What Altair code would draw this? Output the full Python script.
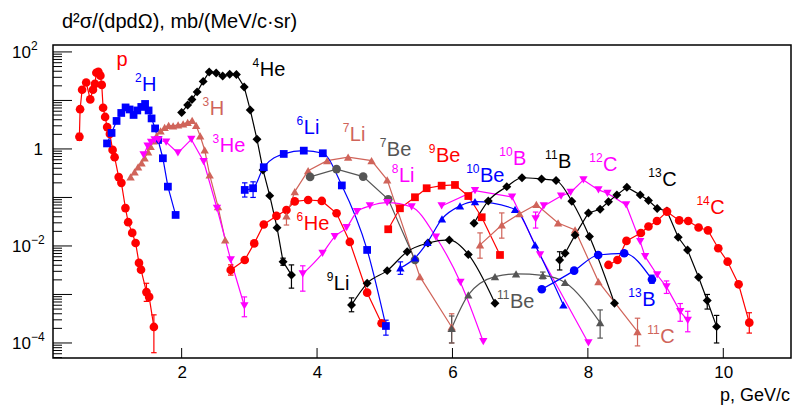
import altair as alt
import pandas as pd

FONT = "Liberation Sans"
W, H = 738, 313

# ---------------- data ----------------
p_x = [0.49, 0.50, 0.53, 0.59, 0.65, 0.69, 0.72, 0.74, 0.77, 0.80, 0.82, 0.84, 0.87, 0.90, 0.94, 0.98, 1.01, 1.07, 1.11, 1.17, 1.21, 1.27, 1.32, 1.37, 1.40, 1.48, 1.52, 1.59]
p_y = [1.78, 6.6, 16.6, 23.4, 10.5, 16.6, 21.9, 37.2, 38.9, 32.4, 20.9, 7.08, 4.57, 2.82, 2.04, 0.955, 0.676, 0.263, 0.200, 0.0603, 0.0309, 0.0186, 0.0115, 0.00447, 0.00324, 0.00112, 0.00089, 0.000214]

h2_x = [0.898, 0.965, 1.039, 1.108, 1.172, 1.231, 1.290, 1.345, 1.404, 1.460, 1.512, 1.556, 1.608, 1.652, 1.723, 1.797, 1.911]
h2_y = [1.30, 2.14, 3.78, 5.52, 7.18, 6.52, 5.02, 6.22, 7.35, 8.47, 6.22, 4.26, 2.65, 1.53, 0.643, 0.167, 0.0436]

he4_x = [2.0, 2.089, 2.152, 2.229, 2.318, 2.407, 2.51, 2.606, 2.71, 2.809, 2.924, 3.013, 3.113, 3.202, 3.301, 3.409, 3.498, 3.622]
he4_y = [5.66, 8.07, 10.5, 15.0, 24.7, 38.7, 36.9, 32.0, 34.7, 34.4, 19.0, 6.37, 1.58, 0.369, 0.109, 0.0238, 0.00474, 0.00252]

h3_x = [1.246, 1.305, 1.357, 1.408, 1.453, 1.505, 1.542, 1.586, 1.630, 1.689, 1.749, 1.808, 1.874, 1.948, 2.022, 2.089, 2.155, 2.214, 2.274, 2.340, 2.414, 2.537, 2.643]
h3_y = [0.265, 0.336, 0.426, 0.514, 0.652, 0.867, 1.13, 1.46, 1.85, 2.35, 2.77, 3.05, 2.98, 3.13, 3.27, 3.52, 3.87, 3.05, 1.85, 0.953, 0.291, 0.0646, 0.0133]

he3_x = [1.438, 1.497, 1.549, 1.601, 1.660, 1.771, 1.945, 2.143, 2.325, 2.522, 2.725, 2.927]
he3_y = [0.752, 1.15, 1.36, 1.53, 1.53, 1.39, 0.828, 1.57, 0.55, 0.0598, 0.00514, 0.000579]

he6_x = [2.725, 2.932, 3.072, 3.213, 3.400, 3.548, 3.671, 3.868, 4.070, 4.288, 4.484, 4.740, 4.953]
he6_y = [0.0032, 0.00514, 0.0113, 0.0277, 0.0416, 0.0552, 0.0828, 0.0887, 0.0847, 0.0472, 0.0121, 0.00109, 0.000255]

li6_x = [2.932, 3.055, 3.213, 3.508, 3.804, 4.085, 4.366, 4.740, 5.017]
li6_y = [0.143, 0.155, 0.42, 0.789, 0.923, 0.815, 0.177, 0.00828, 0.000224]

li7_x = [3.548, 3.671, 3.868, 4.149, 4.459, 4.805, 5.036, 5.519, 5.988]
li7_y = [0.0416, 0.132, 0.357, 0.574, 0.675, 0.574, 0.23, 0.00233, 0.000214]

be7_x = [3.897, 4.288, 4.681, 5.051, 5.446]
be7_y = [0.265, 0.384, 0.269, 0.0918, 0.00514]

li8_x = [3.789, 4.081, 4.262, 4.436, 4.592, 4.780, 5.036, 5.397, 5.756, 6.118, 6.455]
li8_y = [0.00265, 0.00706, 0.0156, 0.024, 0.0509, 0.0668, 0.0782, 0.0637, 0.0153, 0.00177, 0.000106]

li9_x = [4.509, 4.740, 5.036, 5.331, 5.638, 5.953, 6.234, 6.628]
li9_y = [0.000608, 0.0017, 0.0031, 0.00762, 0.0115, 0.0133, 0.00668, 0.000659]

be9_x = [5.051, 5.224, 5.446, 5.619, 5.840, 6.037, 6.234, 6.432, 6.702]
be9_y = [0.0221, 0.0598, 0.101, 0.155, 0.175, 0.181, 0.107, 0.0391, 0.00652]

be10_x = [5.231, 5.446, 5.630, 5.845, 6.111, 6.333, 6.924, 7.220, 7.638]
be10_y = [0.00352, 0.00566, 0.0119, 0.0361, 0.0668, 0.0818, 0.0571, 0.0105, 0.000608]

be11_x = [5.988, 6.234, 6.628, 6.939, 7.334, 7.663, 8.181]
be11_y = [0.000201, 0.000977, 0.00233, 0.00265, 0.00247, 0.00177, 0.000262]

b10_x = [5.840, 6.333, 6.880, 7.294, 8.008]
b10_y = [0.0668, 0.138, 0.102, 0.00652, 0.0001]

b11_x = [6.318, 6.529, 6.802, 7.027, 7.316, 7.530, 7.763, 8.023, 8.393]
b11_y = [0.0294, 0.0847, 0.167, 0.255, 0.24, 0.224, 0.0836, 0.0156, 0.000659]

c11_x = [6.407, 6.728, 6.991, 7.239, 7.560, 7.811, 8.156, 8.733]
c11_y = [0.0105, 0.0271, 0.0463, 0.0718, 0.0298, 0.0214, 0.00184, 0.000171]

c12_x = [7.228, 7.349, 7.604, 7.745, 7.934, 8.156, 8.289, 8.565, 8.773, 8.846, 9.024, 9.161, 9.364, 9.475]
c12_y = [0.0361, 0.0668, 0.107, 0.127, 0.23, 0.143, 0.122, 0.07, 0.0123, 0.00601, 0.00252, 0.00143, 0.000443, 0.000291]

c13_x = [7.583, 7.664, 7.811, 8.008, 8.181, 8.304, 8.428, 8.576, 8.773, 8.895, 9.024, 9.168, 9.334, 9.472, 9.635, 9.763, 9.901]
c13_y = [0.00514, 0.0071, 0.0169, 0.0479, 0.0571, 0.0818, 0.113, 0.162, 0.113, 0.0867, 0.0593, 0.0527, 0.0151, 0.00828, 0.00226, 0.000752, 0.000217]

b13_x = [7.319, 7.797, 8.152, 8.536, 8.946]
b13_y = [0.00128, 0.0031, 0.00652, 0.00706, 0.00204]

c14_x = [8.304, 8.437, 8.570, 8.783, 8.895, 9.020, 9.168, 9.349, 9.482, 9.635, 9.774, 9.926, 10.064, 10.226, 10.384]
c14_y = [0.00406, 0.00514, 0.0127, 0.0185, 0.0252, 0.0327, 0.0509, 0.0336, 0.0327, 0.024, 0.0209, 0.00897, 0.00474, 0.00162, 0.000262]

# error bars: series, x, low, high
err_series = ["p", "p", "p", "he4", "he4", "he3", "he6", "li6", "li6", "li6", "li7", "li7", "li8", "li9", "be10",
              "be11", "be11", "be11", "c11", "c11", "c11", "c12", "c12", "c12", "c12", "c13", "c13", "c13", "b13", "c14"]
err_x = [0.49, 1.48, 1.59, 3.498, 3.622, 2.927, 2.725, 2.932, 3.055, 5.017, 3.548, 5.988, 3.789, 4.509, 5.231,
         5.988, 7.334, 8.181, 6.407, 6.728, 8.733, 7.228, 9.161, 9.364, 9.475, 7.583, 9.763, 9.901, 8.946, 10.384]
err_lo = [1.5, 0.00072, 6.3e-5, 0.0040, 0.00135, 0.000347, 0.00251, 0.102, 0.10, 0.000145, 0.027, 0.0001, 0.00117, 0.00044, 0.0026,
          0.0001, 0.0021, 0.000126, 0.0056, 0.0145, 0.000087, 0.0234, 0.00105, 0.00028, 0.00017, 0.0032, 0.0005, 0.0001, 0.0017, 0.00016]
err_hi = [2.1, 0.0017, 3.8e-4, 0.0056, 0.00407, 0.00089, 0.00407, 0.20, 0.21, 0.000295, 0.060, 0.0004, 0.0039, 0.00085, 0.0047,
          0.00036, 0.0029, 0.00048, 0.0186, 0.048, 0.000324, 0.050, 0.0019, 0.00065, 0.00045, 0.0076, 0.001, 0.00037, 0.0025, 0.00042]

# curve labels: superscript (mass number) + element; anchored at the boundary, on the baseline
lab_sup = ["", "2", "4", "3", "3", "6", "7", "7", "8", "9", "10", "10", "11", "12", "13", "14", "6", "9", "11", "13", "11"]
lab_main = ["p", "H", "He", "H", "He", "Li", "Li", "Be", "Li", "Be", "Be", "B", "B", "C", "C", "C", "He", "Li", "Be", "B", "C"]
lab_series = ["p", "h2", "he4", "h3", "he3", "li6", "li7", "be7", "li8", "be9", "be10", "b10", "b11", "c12", "c13", "c14",
              "he6", "li9", "be11", "b13", "c11"]
lab_x = [1.039, 1.416, 3.153, 2.414, 2.562, 3.804, 4.484, 5.031, 5.209, 5.756, 6.407, 6.895, 7.560, 8.225, 9.098, 9.808,
         3.804, 4.248, 6.850, 8.802, 9.068]
lab_y = [51.4, 15.7, 32.0, 5.02, 0.867, 2.04, 1.46, 0.718, 0.209, 0.540, 0.209, 0.468, 0.406, 0.352, 0.173, 0.0457,
         0.0214, 0.00124, 0.000527, 0.000579, 0.0001]

# y tick labels 10^k
ylab_val = [100, 0.01, 0.0001]
ylab_exp = ["2", "\u22122", "\u22124"]

# ---------------- styles ----------------
RED, BLUE, BLACK, BROWN, MAG, GRAY = "#ff0000", "#0000ff", "#000000", "#d0645a", "#ff00ff", "#555555"
style = {
    "p": (p_x, p_y, RED, "circle", False),
    "h2": (h2_x, h2_y, BLUE, "square", False),
    "he4": (he4_x, he4_y, BLACK, "diamond", False),
    "h3": (h3_x, h3_y, BROWN, "triangle-up", False),
    "he3": (he3_x, he3_y, MAG, "triangle-down", False),
    "he6": (he6_x, he6_y, RED, "circle", False),
    "li6": (li6_x, li6_y, BLUE, "square", True),
    "li7": (li7_x, li7_y, BROWN, "triangle-up", False),
    "be7": (be7_x, be7_y, GRAY, "circle", False),
    "li8": (li8_x, li8_y, MAG, "triangle-down", True),
    "li9": (li9_x, li9_y, BLACK, "diamond", True),
    "be9": (be9_x, be9_y, RED, "square", False),
    "be10": (be10_x, be10_y, BLUE, "triangle-up", True),
    "be11": (be11_x, be11_y, GRAY, "triangle-up", True),
    "b10": (b10_x, b10_y, MAG, "triangle-down", False),
    "b11": (b11_x, b11_y, BLACK, "diamond", True),
    "c11": (c11_x, c11_y, BROWN, "triangle-up", False),
    "c12": (c12_x, c12_y, MAG, "triangle-down", False),
    "c13": (c13_x, c13_y, BLACK, "diamond", False),
    "b13": (b13_x, b13_y, BLUE, "circle", True),
    "c14": (c14_x, c14_y, RED, "circle", False),
}
sizes = {"circle": 75, "square": 60, "diamond": 80, "triangle-up": 70, "triangle-down": 70}

rows = []
for name, (xs_, ys_, col, shp, smooth) in style.items():
    for a, b in zip(xs_, ys_):
        rows.append(dict(series=name, x=a, y=b, col=col, shape=shp, size=sizes[shp], smooth=smooth))
df = pd.DataFrame(rows)

err_df = pd.DataFrame(dict(series=err_series, x=err_x, lo=err_lo, hi=err_hi))
err_df["col"] = [style[s][2] for s in err_series]
caps_df = pd.concat([err_df.assign(y=err_df["lo"]), err_df.assign(y=err_df["hi"])])

lab_df = pd.DataFrame(dict(x=lab_x, y=lab_y, main=lab_main, sup=lab_sup))
lab_df["col"] = [style[s][2] for s in lab_series]

ylab_df = pd.DataFrame(dict(y=ylab_val, main=["10"] * 3, sup=ylab_exp))
yone_df = pd.DataFrame(dict(y=[1], main=["1"]))

major = [1e-4, 1e-3, 1e-2, 1e-1, 1, 10, 100]
minor = [m * 10.0 ** k for k in range(-5, 2) for m in range(2, 10) if 4.9e-5 <= m * 10.0 ** k <= 139]
ytick_major = pd.DataFrame(dict(y=major))
ytick_minor = pd.DataFrame(dict(y=minor))
xtick_df = pd.DataFrame(dict(x=[2, 4, 6, 8, 10]))

# ---------------- scales / axes ----------------
xscale = alt.Scale(domain=[0.1, 11.0], nice=False, zero=False)
yscale = alt.Scale(type="log", domain=[4.9e-5, 139], nice=False)
xaxis = alt.Axis(values=[2, 4, 6, 8, 10], format="d", ticks=False, domain=False, grid=False, title=None,
                 labelFont=FONT, labelFontSize=17, labelColor="black", labelPadding=6)
yaxis = alt.Axis(values=[1], ticks=False, domain=False, grid=False, title=None, labels=False)


def X(f="x"):
    return alt.X(f"{f}:Q", scale=xscale, axis=xaxis)


def Y(f="y"):
    return alt.Y(f"{f}:Q", scale=yscale, axis=yaxis)


colour = alt.Color("col:N", scale=None)

lines_lin = alt.Chart(df[~df.smooth]).mark_line(strokeWidth=1.2, interpolate="linear").encode(
    x=X(), y=Y(), color=colour, detail="series:N")
lines_smooth = alt.Chart(df[df.smooth]).mark_line(strokeWidth=1.2, interpolate="monotone").encode(
    x=X(), y=Y(), color=colour, detail="series:N")
errs = alt.Chart(err_df).mark_rule(strokeWidth=1.2).encode(
    x=X(), y=Y("lo"), y2=alt.Y2("hi:Q"), color=colour)
caps = alt.Chart(caps_df).mark_point(shape="M-1,0L1,0", filled=False, size=30, strokeWidth=1.2, opacity=1).encode(
    x=X(), y=Y(), color=colour)
points = alt.Chart(df).mark_point(filled=True, opacity=1).encode(
    x=X(), y=Y(), color=colour, shape=alt.Shape("shape:N", scale=None), size=alt.Size("size:Q", scale=None))
labels_main = alt.Chart(lab_df).mark_text(font=FONT, fontSize=20, baseline="alphabetic", align="left").encode(
    x=X(), y=Y(), text="main:N", color=colour)
labels_sup = alt.Chart(lab_df).mark_text(font=FONT, fontSize=12, baseline="alphabetic", align="right", dy=-8.5, dx=-0.5).encode(
    x=X(), y=Y(), text="sup:N", color=colour)

yt_major = alt.Chart(ytick_major).mark_rule(color="black", strokeWidth=1).encode(
    y=Y(), x=alt.value(0), x2=alt.value(19))
yt_minor = alt.Chart(ytick_minor).mark_rule(color="black", strokeWidth=1).encode(
    y=Y(), x=alt.value(0), x2=alt.value(9))
xt = alt.Chart(xtick_df).mark_rule(color="black", strokeWidth=1).encode(
    x=X(), y=alt.value(H), y2=alt.value(H - 10))

ylab_main = alt.Chart(ylab_df).mark_text(font=FONT, fontSize=17, baseline="alphabetic", align="right", dy=6, color="black").encode(
    y=Y(), x=alt.value(-22), text="main:N")
ylab_sup = alt.Chart(ylab_df).mark_text(font=FONT, fontSize=12, baseline="alphabetic", align="left", dy=-2, color="black").encode(
    y=Y(), x=alt.value(-22), text="sup:N")
ylab_one = alt.Chart(yone_df).mark_text(font=FONT, fontSize=17, baseline="alphabetic", align="right", dy=6, color="black").encode(
    y=Y(), x=alt.value(-10), text="main:N")

ytitle = alt.Chart(pd.DataFrame(dict(t=["d²σ/(dpdΩ), mb/(MeV/c·sr)"]))).mark_text(
    font=FONT, fontSize=20, align="left", baseline="alphabetic", color="black").encode(
    x=alt.value(9), y=alt.value(-17), text="t:N")
xtitle = alt.Chart(pd.DataFrame(dict(t=["p, GeV/c"]))).mark_text(
    font=FONT, fontSize=18, align="right", baseline="alphabetic", color="black").encode(
    x=alt.value(W - 1), y=alt.value(H + 43), text="t:N")

chart = alt.layer(
    yt_minor, yt_major, xt, lines_lin, lines_smooth, errs, caps, points, labels_main, labels_sup,
    ylab_main, ylab_sup, ylab_one, ytitle, xtitle
).properties(
    width=W, height=H,
    autosize=alt.AutoSizeParams(type="none"),
    padding={"left": 53, "top": 45, "right": 2, "bottom": 49},
    background="white",
).configure_view(stroke="black", strokeWidth=1.5)

chart.save("out.html", embed_options={"renderer": "svg", "actions": False})
